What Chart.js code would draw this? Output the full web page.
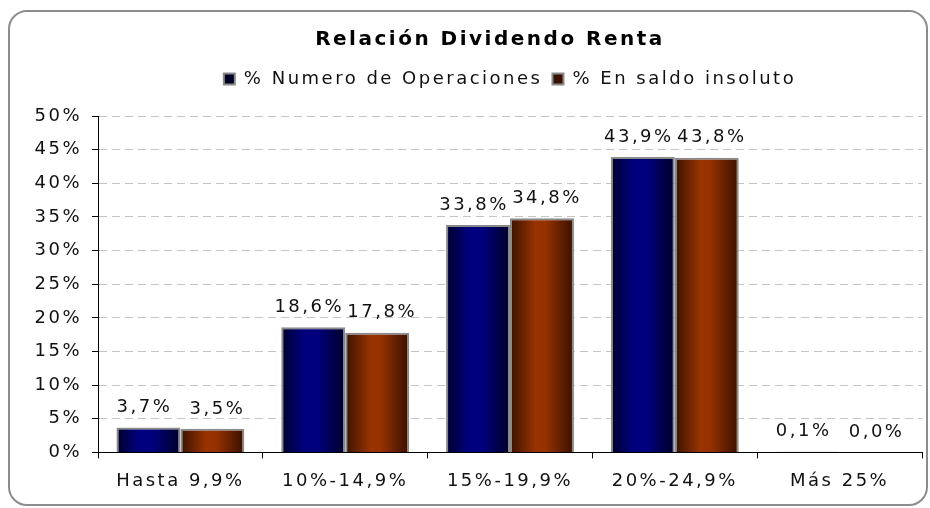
<!DOCTYPE html>
<html>
<head>
<meta charset="utf-8">
<title>Relación Dividendo Renta</title>
<script src="https://cdn.jsdelivr.net/npm/chart.js@4/dist/chart.umd.min.js"></script>
<style>
    body { margin: 0; background: #fff; }
    canvas { display: block; }
</style>
</head>
<body>
<canvas id="chart" width="930" height="508"></canvas>
<script>
// Datos
const categories = ['Hasta 9,9%', '10%-14,9%', '15%-19,9%', '20%-24,9%', 'Más 25%'];
const seriesNames = ['% Numero de Operaciones', '% En saldo insoluto'];
const operaciones = [3.7, 18.6, 33.8, 43.9, 0.1];
const saldoInsoluto = [3.5, 17.8, 34.8, 43.8, 0.0];
const yTicks = [0, 5, 10, 15, 20, 25, 30, 35, 40, 45, 50];

const CAT_PCT = 0.776;
const FONT = "'DejaVu Sans', Verdana, sans-serif";
const TEXT = '#111';
const LABEL_SHIFT = [-4, 5];

// Degradado horizontal para cada barra
function barFill(stops, solid) {
    return (ctx) => {
        if (ctx.type !== 'data') return solid;
        const chart = ctx.chart;
        const x = chart.scales.x;
        if (!x || !chart.chartArea) return solid;
        const center = x.getPixelForValue(ctx.dataIndex);
        const barW = (x.width / categories.length) * CAT_PCT / 2;
        const left = center - barW + ctx.datasetIndex * barW;
        const g = chart.ctx.createLinearGradient(left, 0, left + barW, 0);
        stops.forEach(([pos, col]) => g.addColorStop(pos, col));
        return g;
    };
}

const blueStops = [[0, '#00002e'], [0.35, '#00007e'], [0.55, '#000080'], [1, '#000026']];
const brownStops = [[0, '#3b1200'], [0.4, '#993300'], [0.55, '#963200'], [1, '#381000']];

function fmt(v) {
    return v.toFixed(1).replace('.', ',') + '%';
}

// Espaciado de letras (el original está estirado en horizontal)
const spacing = {
    id: 'spacing',
    beforeUpdate(chart) { chart.ctx.letterSpacing = '2.5px'; },
    beforeDraw(chart) { chart.ctx.letterSpacing = '2.5px'; }
};

// Marco redondeado
const frame = {
    id: 'frame',
    beforeDraw(chart) {
        const ctx = chart.ctx;
        ctx.save();
        ctx.strokeStyle = '#8c8c8c';
        ctx.lineWidth = 2;
        ctx.beginPath();
        ctx.roundRect(9, 11, 918, 494, 18);
        ctx.stroke();
        ctx.restore();
    }
};

// Etiquetas de valor sobre las barras
const valueLabels = {
    id: 'valueLabels',
    afterDatasetsDraw(chart) {
        const ctx = chart.ctx;
        ctx.save();
        ctx.font = '18px ' + FONT;
        ctx.fillStyle = TEXT;
        ctx.textAlign = 'center';
        ctx.textBaseline = 'middle';
        chart.data.datasets.forEach((ds, i) => {
            chart.getDatasetMeta(i).data.forEach((bar, j) => {
                ctx.fillText(fmt(ds.data[j]), bar.x + LABEL_SHIFT[i], bar.y - 20);
            });
        });
        ctx.restore();
    }
};

new Chart(document.getElementById('chart'), {
    type: 'bar',
    data: {
        labels: categories,
        datasets: [
            {
                label: seriesNames[0],
                data: operaciones,
                backgroundColor: barFill(blueStops, '#000080'),
                borderColor: '#8a8a8a',
                borderWidth: 2
            },
            {
                label: seriesNames[1],
                data: saldoInsoluto,
                backgroundColor: barFill(brownStops, '#993300'),
                borderColor: '#8a8a8a',
                borderWidth: 2
            }
        ]
    },
    options: {
        responsive: false,
        animation: false,
        events: [],
        layout: { padding: { left: 58, right: 8, top: 28, bottom: 4 } },
        datasets: {
            bar: { categoryPercentage: CAT_PCT, barPercentage: 1 }
        },
        plugins: {
            title: {
                display: true,
                text: 'Relación Dividendo Renta',
                color: '#000',
                font: { family: FONT, size: 20, weight: 'bold', lineHeight: 1.2 },
                padding: { top: 0, bottom: 8 }
            },
            legend: {
                display: true,
                position: 'top',
                fullSize: false,
                labels: {
                    color: TEXT,
                    font: { family: FONT, size: 18 },
                    boxWidth: 11,
                    boxHeight: 11,
                    padding: 10
                }
            },
            subtitle: {
                display: true,
                text: '',
                fullSize: false,
                weight: 500,
                font: { family: FONT, size: 18, lineHeight: 1 },
                padding: 0
            },
            tooltip: { enabled: false }
        },
        scales: {
            x: {
                offset: true,
                grid: {
                    offset: true,
                    drawOnChartArea: false,
                    drawTicks: true,
                    tickLength: 6,
                    tickColor: '#000'
                },
                border: { display: true, color: '#000', width: 1 },
                ticks: {
                    color: TEXT,
                    font: { family: FONT, size: 18 },
                    padding: 12,
                    maxRotation: 0
                }
            },
            y: {
                min: yTicks[0],
                max: yTicks[yTicks.length - 1],
                afterFit(axis) {
                    axis.width = 40;
                    // las etiquetas sobresalen a la izquierda del eje: sin recorte
                    axis._computeLabelArea = () => undefined;
                },
                afterBuildTicks(axis) { axis.ticks = yTicks.map(v => ({ value: v })); },
                grid: {
                    color: '#c4c4c4',
                    lineWidth: 1,
                    tickLength: 6,
                    tickColor: '#000'
                },
                border: { display: true, color: '#000', width: 1, dash: [8, 5] },
                ticks: {
                    color: TEXT,
                    font: { family: FONT, size: 18 },
                    padding: 10,
                    callback: v => v + '%'
                }
            }
        }
    },
    plugins: [spacing, frame, valueLabels]
});
</script>
</body>
</html>
